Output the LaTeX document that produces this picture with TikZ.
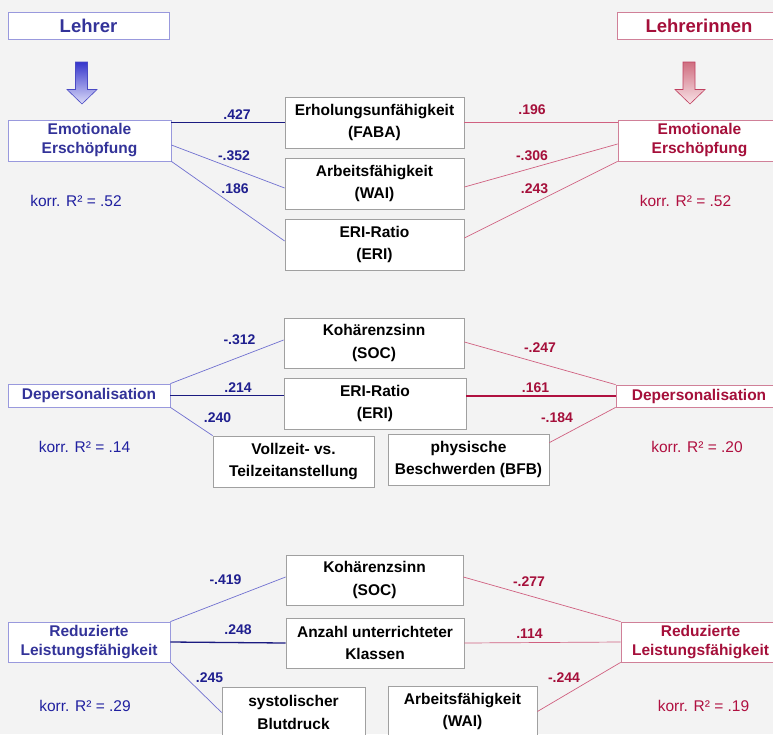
\documentclass[tikz,border=0pt]{standalone}
\usepackage{fontspec}
\setmainfont{Liberation Sans}
\usetikzlibrary{calc}
\definecolor{bgc}{HTML}{F3F3F3}
\definecolor{boxgray}{HTML}{A0A0A0}
\definecolor{bluetxt}{HTML}{333399}
\definecolor{bluecoef}{HTML}{1F1F8F}
\definecolor{bluekorr}{HTML}{2020A0}
\definecolor{bluebord}{HTML}{9999DD}
\definecolor{bluethin}{HTML}{7070D0}
\definecolor{bluethick}{HTML}{1A1A80}
\definecolor{redtxt}{HTML}{A50F3A}
\definecolor{redkorr}{HTML}{B01040}
\definecolor{redbord}{HTML}{D08098}
\definecolor{redthin}{HTML}{D06080}
\definecolor{redthick}{HTML}{B01040}
\definecolor{arrbtop}{HTML}{3535CC}
\definecolor{arrbbot}{HTML}{DCDCF8}
\definecolor{arrbdraw}{HTML}{4A4AC4}
\definecolor{arrrtop}{HTML}{CF6E80}
\definecolor{arrrbot}{HTML}{F8E2E6}
\definecolor{arrrdraw}{HTML}{C04060}
\tikzset{
  midbox/.style={draw=boxgray, fill=white, line width=0.8pt, inner sep=0pt, align=center,
    font=\bfseries\fontsize{15.5}{22.5}\selectfont, text=black},
  bluebox/.style={draw=bluebord, fill=white, line width=0.8pt, inner sep=0pt, align=center,
    font=\bfseries\fontsize{15.5}{19}\selectfont, text=bluetxt},
  redbox/.style={draw=redbord, fill=white, line width=0.8pt, inner sep=0pt, align=center,
    font=\bfseries\fontsize{15.5}{19}\selectfont, text=redtxt},
  headb/.style={bluebox, font=\bfseries\fontsize{18.5}{20}\selectfont},
  headr/.style={redbox, font=\bfseries\fontsize{18.5}{20}\selectfont},
  coefb/.style={text=bluecoef, inner sep=0pt, font=\bfseries\fontsize{14}{16}\selectfont},
  coefr/.style={text=redtxt, inner sep=0pt, font=\bfseries\fontsize{14}{16}\selectfont},
  korrb/.style={text=bluekorr, inner sep=0pt, font=\fontsize{15.5}{18}\selectfont},
  korrr/.style={text=redkorr, inner sep=0pt, font=\fontsize{15.5}{18}\selectfont},
  thinb/.style={draw=bluethin, line width=0.7pt},
  thickb/.style={draw=bluethick, line width=1.3pt},
  thinr/.style={draw=redthin, line width=0.7pt},
  thickr/.style={draw=redthick, line width=1.3pt},
}
\begin{document}
\begin{tikzpicture}[x=1pt,y=-1pt]
\useasboundingbox (0,0) rectangle (773,734);
\fill[bgc] (0,0) rectangle (773,734);
\clip (0,0) rectangle (773,734);

% headers
\node[headb, minimum width=161pt, minimum height=27pt] (lehrer) at (88.5,25.5) {Lehrer};
\node[headr, minimum width=164pt, minimum height=27pt] (lehrerinnen) at (699,25.5) {Lehrerinnen};

% block arrows
\shade[top color=arrbtop, bottom color=arrbbot, draw=arrbdraw, line width=0.6pt]
  (75.5,62) -- (87.5,62) -- (87.5,89.5) -- (97,89.5) -- (82,104) -- (67,89.5) -- (75.5,89.5) -- cycle;
\shade[top color=arrrtop, bottom color=arrrbot, draw=arrrdraw, line width=0.6pt]
  (683,62) -- (695,62) -- (695,89.5) -- (705,89.5) -- (690,104) -- (675,89.5) -- (683,89.5) -- cycle;

% ---------- section 1 ----------
\node[bluebox, minimum width=163pt, minimum height=41pt] (emoL) at (89.5,140.5) {Emotionale\\Erschöpfung};
\node[redbox, minimum width=163pt, minimum height=41pt] (emoR) at (699.5,140.5) {Emotionale\\Erschöpfung};
\node[midbox, minimum width=179pt, minimum height=51pt] (faba) at (374.5,122.5) {Erholungsunfähigkeit\\(FABA)};
\node[midbox, minimum width=179pt, minimum height=51pt] (wai1) at (374.5,183.5) {Arbeitsfähigkeit\\(WAI)};
\node[midbox, minimum width=179pt, minimum height=51pt] (eri1) at (374.5,244.5) {ERI-Ratio\\(ERI)};

\draw[thickb] (faba.west -| emoL.east) -- (faba.west);
\draw[thinb] ($(emoL.east)+(0,4.5)$) -- ($(wai1.west)+(0,4.5)$);
\draw[thinb] (emoL.south east) -- ($(eri1.west)+(0,-3.5)$);
\draw[thinr] (faba.east) -- (faba.east -| emoR.west);
\draw[thinr] ($(wai1.east)+(0,3.5)$) -- ($(emoR.west)+(0,3.5)$);
\draw[thinr] ($(eri1.east)+(0,-6.5)$) -- (emoR.south west);

\node[coefb] (c1) at (237,115) {.427};
\node[coefb] (c2) at (234,155.5) {-.352};
\node[coefb] (c3) at (235,188.5) {.186};
\node[coefr] (c4) at (532,110) {.196};
\node[coefr] (c5) at (532,156) {-.306};
\node[coefr] (c6) at (534.5,189) {.243};
\node[korrb] (k1) at (76,201) {korr. R² = .52};
\node[korrr] (k2) at (685.5,201) {korr. R² = .52};

% ---------- section 2 ----------
\node[bluebox, minimum width=162pt, minimum height=23pt] (depL) at (89,395.5) {Depersonalisation};
\node[redbox, minimum width=166pt, minimum height=22pt] (depR) at (699,396) {Depersonalisation};
\node[midbox, minimum width=180pt, minimum height=50pt] (soc2) at (374,343) {Kohärenzsinn\\(SOC)};
\node[midbox, minimum width=182pt, minimum height=51pt] (eri2) at (375,403.5) {ERI-Ratio\\(ERI)};
\node[midbox, minimum width=161pt, minimum height=51pt] (voll) at (293.5,461.5) {Vollzeit- vs.\\Teilzeitanstellung};
\node[midbox, minimum width=161pt, minimum height=51pt] (bfb) at (468.5,459.5) {physische\\Beschwerden (BFB)};

\draw[thinb] (depL.north east) -- ($(soc2.west)+(0,-3)$);
\draw[thickb] (depL.east) -- (eri2.west |- depL.east);
\draw[thinb] (depL.south east) -- (voll.north west);
\draw[thinr] ($(soc2.east)+(0,-1)$) -- (depR.north west);
\draw[thickr] (eri2.east |- depR.west) -- (depR.west);
\draw[thinr] ($(bfb.north east)+(0,9)$) -- (depR.south west);

\node[coefb] (c7) at (239.5,340) {-.312};
\node[coefb] (c8) at (238,388) {.214};
\node[coefb] (c9) at (217.5,418) {.240};
\node[coefr] (c10) at (540,348) {-.247};
\node[coefr] (c11) at (535.5,388) {.161};
\node[coefr] (c12) at (557,418) {-.184};
\node[korrb] (k3) at (84.5,447) {korr. R² = .14};
\node[korrr] (k4) at (697,447) {korr. R² = .20};

% ---------- section 3 ----------
\node[bluebox, minimum width=162pt, minimum height=40pt] (redL) at (89,642) {Reduzierte\\Leistungsfähigkeit};
\node[redbox, minimum width=159pt, minimum height=40pt] (redR) at (700.5,642) {Reduzierte\\Leistungsfähigkeit};
\node[midbox, minimum width=177pt, minimum height=50pt] (soc3) at (374.5,580) {Kohärenzsinn\\(SOC)};
\node[midbox, minimum width=178pt, minimum height=50pt] (anz) at (375,643) {Anzahl unterrichteter\\Klassen};
\node[midbox, minimum width=143pt, minimum height=51pt] (sys) at (293.5,712.5) {systolischer\\Blutdruck};
\node[midbox, minimum width=149pt, minimum height=51pt] (wai3) at (462.5,711.5) {Arbeitsfähigkeit\\(WAI)};

\draw[thinb] (redL.north east) -- ($(soc3.west)+(0,-3)$);
\draw[thickb] (redL.east) -- (anz.west);
\draw[thinb] (redL.south east) -- (sys.west);
\draw[thinr] ($(soc3.east)+(0,-3)$) -- (redR.north west);
\draw[thinr] (anz.east) -- (redR.west);
\draw[thinr] (wai3.east) -- (redR.south west);

\node[coefb] (c13) at (225.5,580) {-.419};
\node[coefb] (c14) at (238,629.5) {.248};
\node[coefb] (c15) at (209.5,677.5) {.245};
\node[coefr] (c16) at (529,582) {-.277};
\node[coefr] (c17) at (529.5,634) {.114};
\node[coefr] (c18) at (564,678) {-.244};
\node[korrb] (k5) at (85,706) {korr. R² = .29};
\node[korrr] (k6) at (703.5,706) {korr. R² = .19};
\end{tikzpicture}
\end{document}
